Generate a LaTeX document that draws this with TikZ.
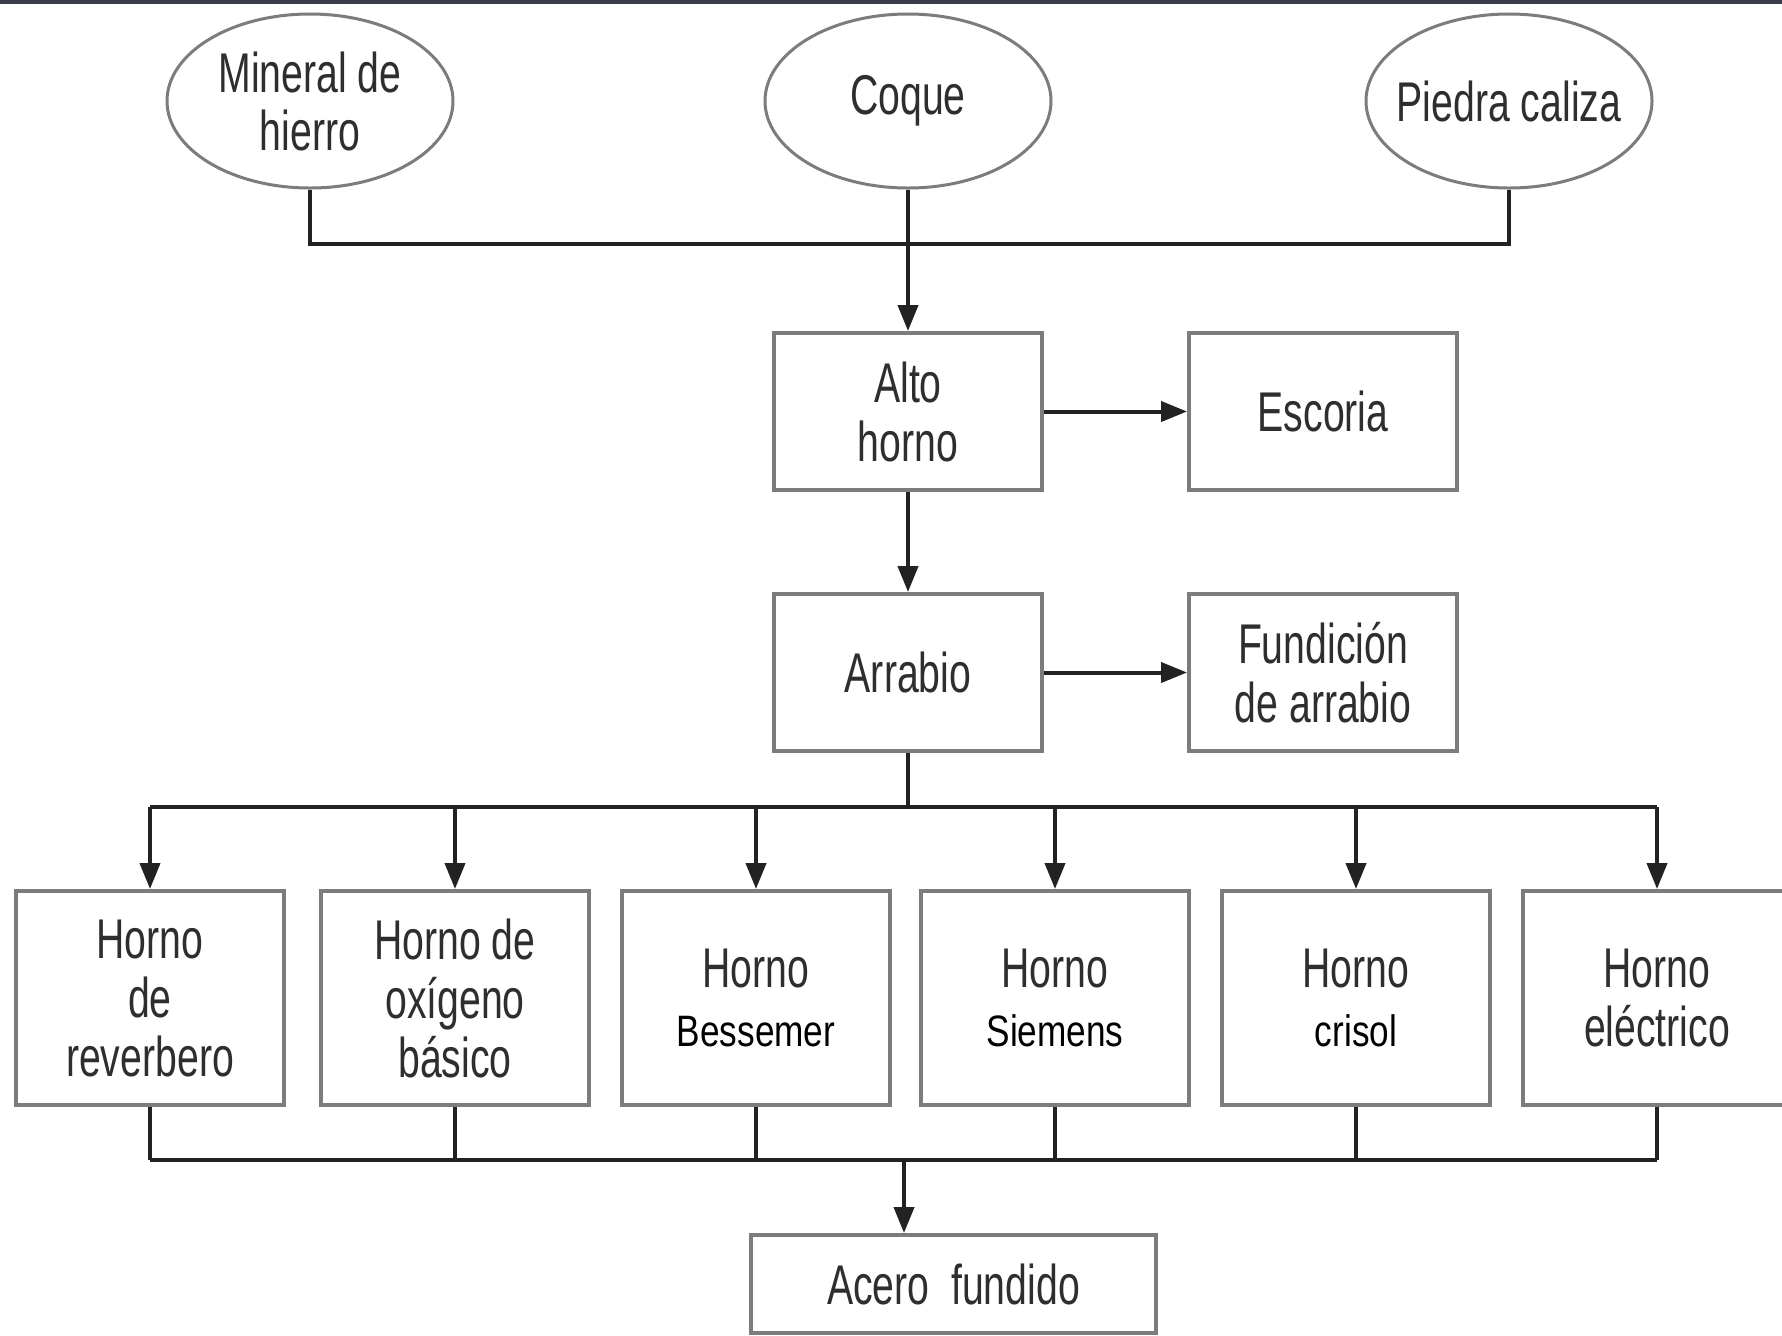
\documentclass[tikz,border=0pt]{standalone}
\usepackage{fontspec}
\setmainfont{Liberation Sans}
\newfontfamily\condfont[FakeStretch=0.7]{Liberation Sans}
\newfontfamily\pixfont[FakeStretch=0.8]{Liberation Sans}
\usetikzlibrary{arrows.meta,shapes.geometric}
\definecolor{txt}{HTML}{2E2E2E}
\definecolor{bord}{HTML}{7C7C7C}
\definecolor{connc}{HTML}{222222}
\definecolor{topbar}{HTML}{3B3D4A}
\newcommand\pixtxt[1]{{\pixfont\fontsize{22}{24}\selectfont\color{black}#1}}
\tikzset{
  oval/.style={ellipse, draw=bord, line width=1.5pt, minimum width=143pt, minimum height=87pt,
    inner sep=0pt, align=center, font=\condfont\fontsize{28}{29}\selectfont, text=txt},
  box/.style={rectangle, draw=bord, line width=2pt, minimum width=134pt, minimum height=78.5pt,
    inner sep=0pt, align=center, font=\condfont\fontsize{28}{29.5}\selectfont, text=txt, fill=white},
  tallbox/.style={box, minimum height=107pt},
  conn/.style={draw=connc, line width=2pt},
  arr/.style={conn, -{Triangle[length=13pt,width=10pt]}}
}
\begin{document}
\begin{tikzpicture}[x=0.5pt,y=-0.5pt]
\useasboundingbox (0,0) rectangle (1782,1335);
\fill[white] (0,0) rectangle (1782,1335);
\fill[topbar] (0,0) rectangle (1782,4);

\node[oval] (min) at (310,101) {Mineral de\\hierro};
\node[oval] (coq) at (908,101) {Coque};
\node[oval, inner xsep=-8pt] (pie) at (1509,101) {Piedra caliza};

\node[box] (alto) at (908,411.5) {Alto\\horno};
\node[box] (esc) at (1323,411.5) {Escoria};
\node[box] (arr) at (908,672.5) {Arrabio};
\node[box] (fun) at (1323,672.5) {Fundición\\de arrabio};

\node[tallbox] (h1) at (150,998) {Horno\\de\\reverbero};
\node[tallbox] (h2) at (455,998) {Horno de\\oxígeno\\básico};
\node[tallbox] (h3) at (756,998) {Horno\\\pixtxt{Bessemer}};
\node[tallbox] (h4) at (1055,998) {Horno\\\pixtxt{Siemens}};
\node[tallbox] (h5) at (1356,998) {Horno\\\pixtxt{crisol}};
\node[tallbox] (h6) at (1657,998) {Horno\\eléctrico};

\node[box, minimum width=202.5pt, minimum height=49pt] (acero) at (953.5,1284) {Acero\ \ fundido};

% top collector
\coordinate (b1) at (908,244);
\draw[conn] (min.south) |- (b1) -| (pie.south);
\draw[arr] (coq.south) -- (alto.north);
\draw[arr] (alto.east) -- (esc.west);
\draw[arr] (alto.south) -- (arr.north);
\draw[arr] (arr.east) -- (fun.west);

% distribution bus
\coordinate (b2) at (908,807);
\draw[conn] (arr.south) -- (b2);
\draw[conn] (h1.north |- b2) -- (h6.north |- b2);
\foreach \h in {h1,h2,h3,h4,h5,h6}
  \draw[arr] (\h.north |- b2) -- (\h.north);

% collection bus
\coordinate (b3) at (904,1160);
\draw[conn] (h1.south |- b3) -- (h6.south |- b3);
\foreach \h in {h1,h2,h3,h4,h5,h6}
  \draw[conn] (\h.south) -- (\h.south |- b3);
\draw[arr] (b3) -- (b3 |- acero.north);
\end{tikzpicture}
\end{document}
